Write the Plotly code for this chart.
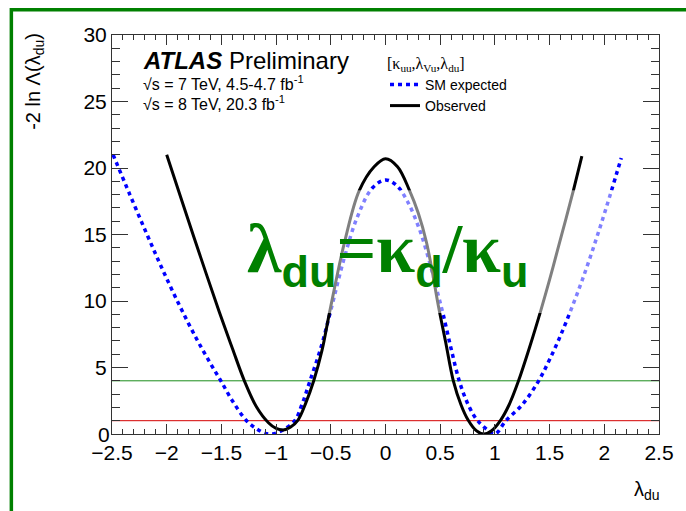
import plotly.graph_objects as go

# Profile likelihood scan of lambda_du = kappa_d / kappa_u
obs_x = [-2.0, -1.86, -1.69, -1.52, -1.40, -1.29, -1.18, -1.07, -1.00, -0.936,
         -0.87, -0.80, -0.73, -0.656, -0.58, -0.51, -0.375, -0.24, -0.104, 0.0,
         0.11, 0.22, 0.30, 0.375, 0.43, 0.484, 0.55, 0.62, 0.69, 0.755,
         0.83, 0.90, 0.97, 1.053, 1.13, 1.216, 1.32, 1.42, 1.50, 1.57,
         1.65, 1.72, 1.795]
obs_y = [21.0, 17.5, 13.3, 9.2, 6.45, 4.0, 2.05, 0.85, 0.42, 0.3,
         0.5, 1.05, 2.3, 4.0, 6.3, 9.2, 14.4, 18.3, 20.1, 20.7,
         20.1, 18.3, 16.6, 14.4, 12.1, 9.6, 6.9, 4.0, 2.2, 1.05,
         0.25, 0.0, 0.25, 1.05, 2.2, 4.0, 6.6, 9.3, 11.6, 13.75,
         16.2, 18.4, 20.9]

exp_x = [-2.49, -2.337, -2.18, -2.04, -1.885, -1.73, -1.60, -1.505, -1.40, -1.27,
         -1.18, -1.10, -1.03, -0.95, -0.83, -0.76, -0.69, -0.59, -0.50, -0.375,
         -0.258, -0.12, 0.0, 0.10, 0.20, 0.31, 0.40, 0.48, 0.53, 0.60,
         0.674, 0.74, 0.80, 0.843, 0.918, 1.00, 1.10, 1.25, 1.40, 1.50,
         1.61, 1.795, 1.975, 2.155]
exp_y = [21.0, 18.0, 15.0, 12.4, 9.7, 7.2, 5.3, 4.0, 2.5, 1.0,
         0.4, 0.05, 0.0, 0.25, 1.0, 2.3, 4.0, 6.5, 9.3, 13.3,
         16.3, 18.5, 19.1, 18.7, 17.5, 15.4, 13.0, 10.5, 8.9, 6.4,
         4.0, 2.5, 1.5, 1.0, 0.4, 0.0, 1.0, 2.2, 4.0, 5.6,
         7.6, 11.5, 15.9, 20.75]

# 68% and 95% CL reference levels
cl_levels = [1.0, 4.0]
cl_colors = ["#d40000", "#1a8c1a"]

x_ticks = [-2.5, -2.0, -1.5, -1.0, -0.5, 0.0, 0.5, 1.0, 1.5, 2.0, 2.5]
x_labels = ["\u22122.5", "\u22122", "\u22121.5", "\u22121", "\u22120.5", "0", "0.5", "1", "1.5", "2", "2.5"]
y_ticks = [0, 5, 10, 15, 20, 25, 30]
y_labels = ["", "5", "10", "15", "20", "25", "30"]

X_RANGE = [-2.5, 2.5]
Y_RANGE = [0, 30]

fig = go.Figure()

fig.add_trace(go.Scatter(
    x=exp_x, y=exp_y, mode="lines", name="SM expected",
    line=dict(color="#0000ff", width=3.5, dash="4px,4px", shape="spline", smoothing=1.0),
))
fig.add_trace(go.Scatter(
    x=obs_x, y=obs_y, mode="lines", name="Observed",
    line=dict(color="#000000", width=3, shape="spline", smoothing=1.0),
))

shapes = []
for lvl, col in zip(cl_levels, cl_colors):
    shapes.append(dict(type="line", xref="x", yref="y", x0=X_RANGE[0], x1=X_RANGE[1],
                       y0=lvl, y1=lvl, line=dict(color=col, width=1), layer="below"))

# translucent panel behind the formula
shapes.append(dict(type="rect", xref="paper", yref="paper",
                   x0=0.231, x1=0.955, y0=0.303, y1=0.611,
                   fillcolor="rgba(255,255,255,0.5)", line=dict(width=0), layer="above"))

# slide frame
shapes.append(dict(type="rect", xref="paper", yref="paper",
                   x0=-0.184, x1=1.3, y0=-0.4, y1=1.063,
                   line=dict(color="#008000", width=3.5), fillcolor="rgba(0,0,0,0)", layer="above"))

F = "Liberation Sans, Arial, sans-serif"
SUB = "font-family:Liberation Sans;font-size:45px"
annotations = [
    dict(text="<b><i>ATLAS</i></b> Preliminary", xref="paper", yref="paper",
         x=(141 - 112) / 553, y=(434 - 60) / 399, xanchor="left", yanchor="middle",
         showarrow=False, font=dict(family=F, size=24, color="black")),
    dict(text="\u221as = 7 TeV, 4.5-4.7 fb<sup>-1</sup>", xref="paper", yref="paper",
         x=(141 - 112) / 553, y=(434 - 83) / 399, xanchor="left", yanchor="middle",
         showarrow=False, font=dict(family=F, size=16, color="black")),
    dict(text="\u221as = 8 TeV, 20.3 fb<sup>-1</sup>", xref="paper", yref="paper",
         x=(141 - 112) / 553, y=(434 - 103) / 399, xanchor="left", yanchor="middle",
         showarrow=False, font=dict(family=F, size=16, color="black")),
    dict(text="-2 ln \u039b(\u03bb<sub>du</sub>)", xref="paper", yref="paper",
         x=(33 - 112) / 553, y=(434 - 81) / 399, xanchor="center", yanchor="middle",
         textangle=-90, showarrow=False, font=dict(family=F, size=20, color="black")),
    dict(text="\u03bb<sub>du</sub>", xref="paper", yref="paper",
         x=(668 - 112) / 553, y=(434 - 490) / 399, xanchor="right", yanchor="middle",
         showarrow=False, font=dict(family=F, size=20, color="black")),
    dict(text="0", xref="paper", yref="paper",
         x=(104 - 112) / 553, y=0, xanchor="center", yanchor="middle",
         showarrow=False, font=dict(family=F, size=21, color="black")),
    dict(text=(f"<b>\u03bb<sub><span style=\"{SUB}\">du</span></sub>"
               f"=\u03ba<sub><span style=\"{SUB}\">d</span></sub>"
               f"/\u03ba<sub><span style=\"{SUB}\">u</span></sub></b>"),
         xref="paper", yref="paper", x=0.503, y=0.452, xanchor="center", yanchor="middle",
         showarrow=False, font=dict(family="Liberation Serif, serif", size=70, color="#008000")),
]

axis_common = dict(
    showgrid=False, zeroline=False, showline=True, linecolor="#333333", linewidth=1,
    mirror="ticks", ticks="inside", tickcolor="#333333", tickwidth=1,
    tickfont=dict(family=F, size=21, color="black"), layer="above traces",
)

fig.update_layout(
    width=686, height=511, autosize=False,
    margin=dict(l=112, r=21, t=35, b=77),
    paper_bgcolor="white", plot_bgcolor="white",
    xaxis=dict(range=X_RANGE, tickvals=x_ticks, ticktext=x_labels, ticklen=10,
               minor=dict(dtick=0.1, ticklen=5, ticks="inside", tickcolor="#333333", showgrid=False),
               **axis_common),
    yaxis=dict(range=Y_RANGE, tickvals=y_ticks, ticktext=y_labels, ticklen=16,
               minor=dict(dtick=1, ticklen=8, ticks="inside", tickcolor="#333333", showgrid=False),
               **axis_common),
    showlegend=True,
    legend=dict(x=(388 - 112) / 553, y=(434 - 48) / 399, xanchor="left", yanchor="top",
                bgcolor="rgba(0,0,0,0)", itemwidth=30, tracegroupgap=0,
                font=dict(family=F, size=14, color="black"),
                title=dict(text="[\u03ba<sub>uu</sub>,\u03bb<sub>Vu</sub>,\u03bb<sub>du</sub>]",
                           font=dict(family="Liberation Serif, serif", size=16, color="black"))),
    shapes=shapes,
    annotations=annotations,
)

fig.write_html("out.html")
